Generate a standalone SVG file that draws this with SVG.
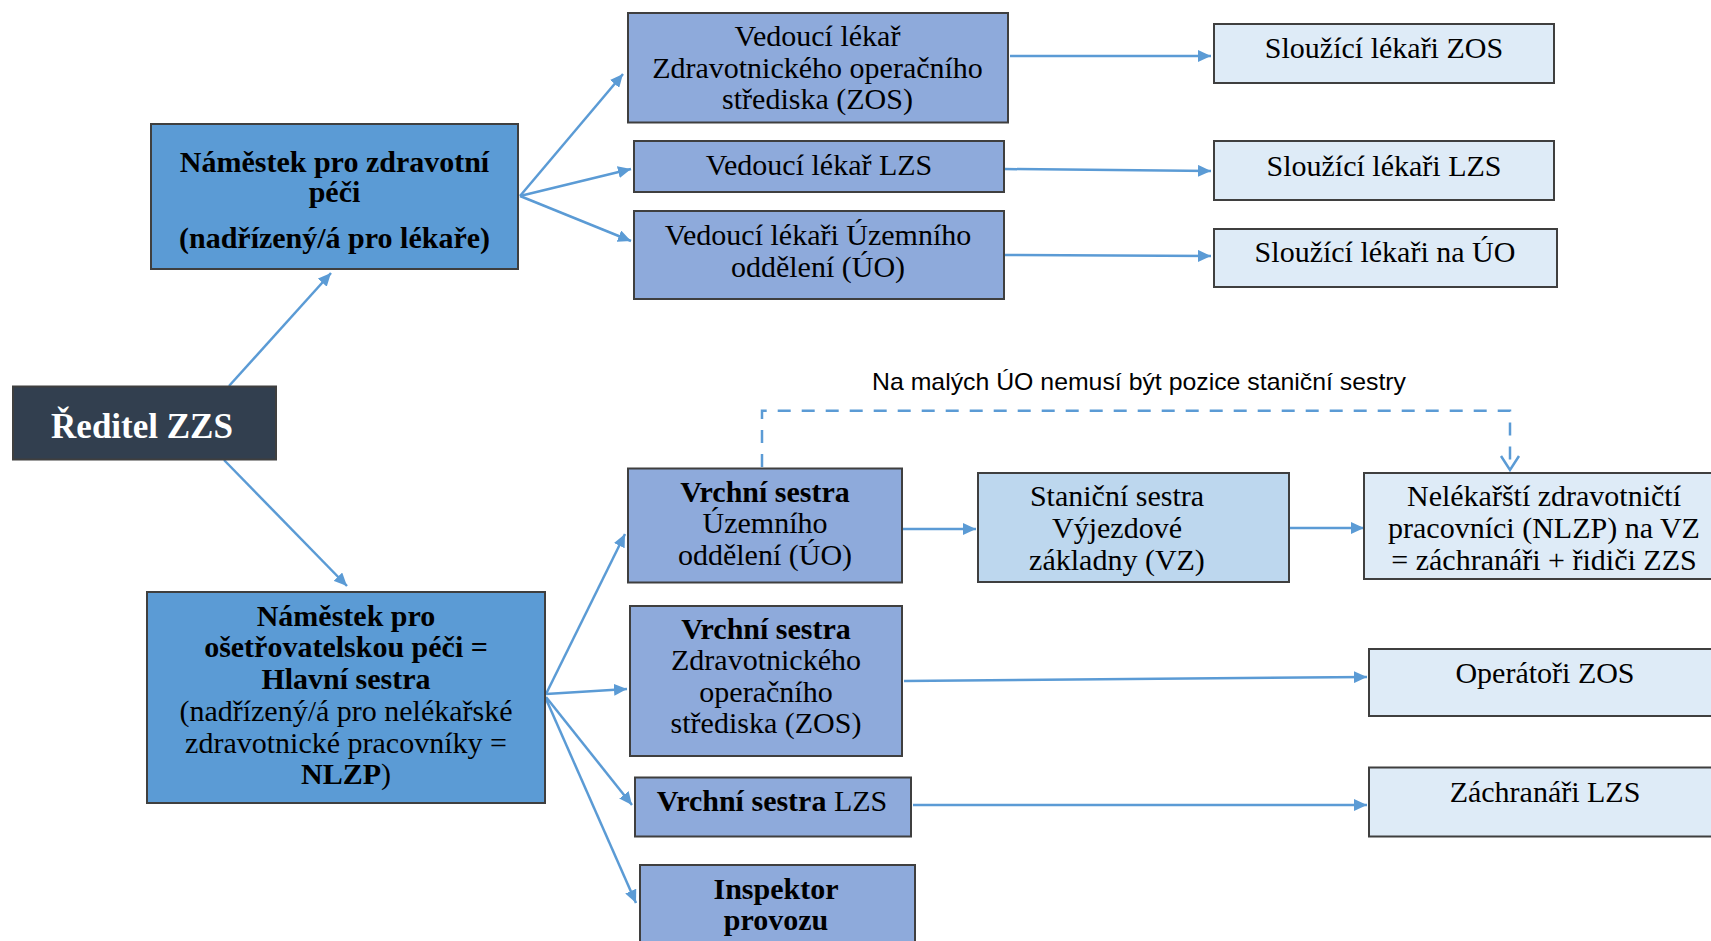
<svg xmlns="http://www.w3.org/2000/svg" width="1711" height="941" viewBox="0 0 1711 941">
<style>
.box{stroke:#3f3f3f;stroke-width:2}
.dark{fill:#323f4f}
.mid{fill:#5b9bd5}
.l1{fill:#8eaadb}
.l2{fill:#bdd7ee}
.l3{fill:#deebf7}
text{font-family:"Liberation Serif","Times New Roman",serif;font-size:30px;fill:#000;text-anchor:middle}
.b{font-weight:bold}
.w{fill:#fff}
.conn{stroke:#5b9bd5;stroke-width:2.5;fill:none}
.note{font-family:"Liberation Sans",Arial,sans-serif;font-size:24px;text-anchor:start}
</style>
<defs>
<marker id="ah" markerUnits="userSpaceOnUse" markerWidth="14" markerHeight="12" refX="13" refY="6" orient="auto">
<path d="M0,0 L13,6 L0,12 z" fill="#5b9bd5"/>
</marker>
<marker id="oh" markerUnits="userSpaceOnUse" markerWidth="22" markerHeight="22" refX="16" refY="11" orient="auto">
<path d="M2,2 L16,11 L2,20" fill="none" stroke="#5b9bd5" stroke-width="2.5"/>
</marker>
</defs>
<rect width="1711" height="941" fill="#fff"/>

<g id="connectors">
<line class="conn" x1="229" y1="386" x2="331" y2="273" marker-end="url(#ah)"/>
<line class="conn" x1="224" y1="460" x2="347" y2="586" marker-end="url(#ah)"/>
<line class="conn" x1="520" y1="196" x2="623" y2="74" marker-end="url(#ah)"/>
<line class="conn" x1="520" y1="196" x2="631" y2="169" marker-end="url(#ah)"/>
<line class="conn" x1="520" y1="196" x2="631" y2="241" marker-end="url(#ah)"/>
<line class="conn" x1="1010" y1="56" x2="1211" y2="56" marker-end="url(#ah)"/>
<line class="conn" x1="1004" y1="169" x2="1211" y2="171" marker-end="url(#ah)"/>
<line class="conn" x1="1004" y1="255" x2="1211" y2="256" marker-end="url(#ah)"/>
<line class="conn" x1="546" y1="694" x2="625" y2="534" marker-end="url(#ah)"/>
<line class="conn" x1="546" y1="694" x2="627" y2="689" marker-end="url(#ah)"/>
<line class="conn" x1="546" y1="697" x2="632" y2="805" marker-end="url(#ah)"/>
<line class="conn" x1="546" y1="699" x2="636" y2="903" marker-end="url(#ah)"/>
<line class="conn" x1="903" y1="529" x2="976" y2="529" marker-end="url(#ah)"/>
<line class="conn" x1="1289" y1="528" x2="1364" y2="528" marker-end="url(#ah)"/>
<line class="conn" x1="904" y1="681" x2="1367" y2="677" marker-end="url(#ah)"/>
<line class="conn" x1="913" y1="805" x2="1367" y2="805" marker-end="url(#ah)"/>
<path class="conn" d="M762,467 V410.7 H1510 V470" stroke-dasharray="13,11" marker-end="url(#oh)"/>
<text class="note" x="872" y="390" textLength="534" lengthAdjust="spacingAndGlyphs">Na malých ÚO nemusí být pozice staniční sestry</text>
</g>

<g id="reditel">
<rect class="box dark" x="13" y="386.5" width="263" height="73"/>
<text class="b w" x="142" y="438" style="font-size:35px">Ředitel ZZS</text>
</g>

<g id="namestek-zdrav">
<rect class="box mid" x="151" y="124" width="367" height="145"/>
<text class="b" x="334.5" y="172">Náměstek pro zdravotní</text>
<text class="b" x="334.5" y="202">péči</text>
<text class="b" x="334.5" y="248">(nadřízený/á pro lékaře)</text>
</g>

<g id="vedouci-zos">
<rect class="box l1" x="628" y="13" width="380" height="109.5"/>
<text x="817.5" y="46">Vedoucí lékař</text>
<text x="817.5" y="77.5">Zdravotnického operačního</text>
<text x="817.5" y="109">střediska (ZOS)</text>
</g>

<g id="vedouci-lzs">
<rect class="box l1" x="634" y="141" width="370" height="51"/>
<text x="819" y="175">Vedoucí lékař LZS</text>
</g>

<g id="vedouci-uo">
<rect class="box l1" x="634" y="211" width="370" height="88"/>
<text x="818" y="245">Vedoucí lékaři Územního</text>
<text x="818" y="277">oddělení (ÚO)</text>
</g>

<g id="slouzici-zos">
<rect class="box l3" x="1214" y="24" width="340" height="59"/>
<text x="1384" y="58">Sloužící lékaři ZOS</text>
</g>

<g id="slouzici-lzs">
<rect class="box l3" x="1214" y="141" width="340" height="59"/>
<text x="1384" y="176">Sloužící lékaři LZS</text>
</g>

<g id="slouzici-uo">
<rect class="box l3" x="1214" y="229" width="343" height="58"/>
<text x="1385" y="262">Sloužící lékaři na ÚO</text>
</g>

<g id="namestek-oset">
<rect class="box mid" x="147" y="592" width="398" height="211"/>
<text class="b" x="346" y="626">Náměstek pro</text>
<text class="b" x="346" y="657">ošetřovatelskou péči =</text>
<text class="b" x="346" y="689">Hlavní sestra</text>
<text x="346" y="721">(nadřízený/á pro nelékařské</text>
<text x="346" y="753">zdravotnické pracovníky =</text>
<text x="346" y="784"><tspan class="b">NLZP</tspan>)</text>
</g>

<g id="vrchni-uo">
<rect class="box l1" x="628" y="468.5" width="274" height="114"/>
<text class="b" x="765" y="502">Vrchní sestra</text>
<text x="765" y="533">Územního</text>
<text x="765" y="565">oddělení (ÚO)</text>
</g>

<g id="vrchni-zos">
<rect class="box l1" x="630" y="606" width="272" height="150"/>
<text class="b" x="766" y="639">Vrchní sestra</text>
<text x="766" y="670">Zdravotnického</text>
<text x="766" y="702">operačního</text>
<text x="766" y="733">střediska (ZOS)</text>
</g>

<g id="vrchni-lzs">
<rect class="box l1" x="635" y="777.5" width="276" height="59"/>
<text x="772" y="811"><tspan class="b">Vrchní sestra</tspan> LZS</text>
</g>

<g id="inspektor">
<rect class="box l1" x="640" y="865" width="275" height="90"/>
<text class="b" x="776" y="899">Inspektor</text>
<text class="b" x="776" y="930">provozu</text>
</g>

<g id="stanicni">
<rect class="box l2" x="978" y="473" width="311" height="109"/>
<text x="1117" y="506">Staniční sestra</text>
<text x="1117" y="538">Výjezdové</text>
<text x="1117" y="570">základny (VZ)</text>
</g>

<g id="nelekarsti">
<rect class="box l3" x="1364" y="473" width="360" height="106"/>
<text x="1544" y="506">Nelékařští zdravotničtí</text>
<text x="1544" y="538">pracovníci (NLZP) na VZ</text>
<text x="1544" y="570">= záchranáři + řidiči ZZS</text>
</g>

<g id="operatori">
<rect class="box l3" x="1369" y="649" width="360" height="67"/>
<text x="1545" y="683">Operátoři ZOS</text>
</g>

<g id="zachranari">
<rect class="box l3" x="1369" y="767.5" width="360" height="69"/>
<text x="1545" y="802">Záchranáři LZS</text>
</g>
</svg>
